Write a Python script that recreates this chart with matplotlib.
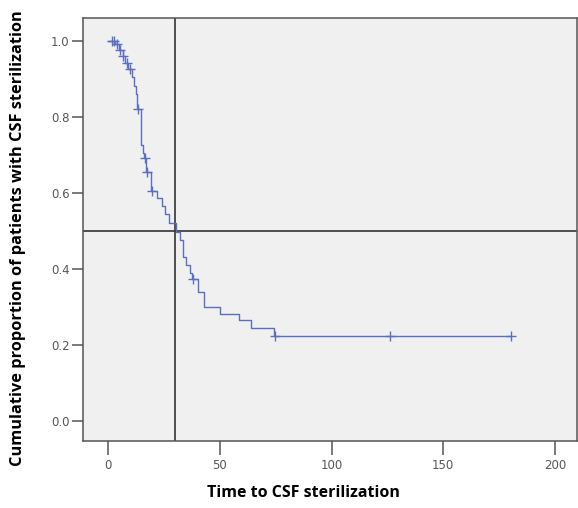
import matplotlib
matplotlib.use('Agg')
import matplotlib.pyplot as plt
import numpy as np

# step points of the Kaplan-Meier curve (time, cumulative proportion after drop)
step_t = [0, 3, 5, 6.5, 7.5, 9, 10.5, 11.5, 12.5, 13, 14.5, 15.5, 16, 17, 19,
          22, 24, 25.5, 27, 30.5, 32, 33.5, 35, 36.5, 37.5, 40, 43, 50, 58.5,
          64, 74, 180.5]
step_s = [1.0, 0.99, 0.975, 0.96, 0.94, 0.925, 0.905, 0.88, 0.86, 0.82, 0.725,
          0.705, 0.69, 0.655, 0.605, 0.585, 0.565, 0.545, 0.52, 0.497, 0.475,
          0.43, 0.41, 0.39, 0.372, 0.34, 0.30, 0.28, 0.265, 0.245, 0.223, 0.223]

# censored observations
censor_t = [1.5, 2.5, 4, 5.3, 6.7, 8.3, 9.7, 13.3, 16.4, 17.2, 19.7, 38, 74.5, 126, 180.5]

median_t = 30
median_s = 0.5

xticks = [0, 50, 100, 150, 200]
yticks = [0.0, 0.2, 0.4, 0.6, 0.8, 1.0]

line_col = '#5b6fc0'
dark = '#333333'

fig = plt.figure(figsize=(5.78, 5.08), dpi=100)
ax = fig.add_axes([0.1441, 0.1319, 0.854, 0.8317])
ax.set_facecolor('#f0f0f0')

ax.step(step_t, step_s, where='post', color=line_col, lw=1.0, zorder=3)

# censor marks on the curve
idx = np.searchsorted(step_t, censor_t, side='right') - 1
censor_s = np.array(step_s)[idx]
ax.plot(censor_t, censor_s, ls='none', marker='|', ms=7, mew=1.0, color=line_col, zorder=4)
ax.plot(censor_t, censor_s, ls='none', marker='_', ms=7, mew=1.0, color=line_col, zorder=4)

# reference lines
ax.axvline(median_t, color=dark, lw=1.2, zorder=2)
ax.axhline(median_s, color=dark, lw=1.2, zorder=2)

ax.set_xlim(-11.2, 209.9)
ax.set_ylim(-0.053, 1.058)
ax.set_xticks(xticks)
ax.set_xticklabels([str(v) for v in xticks])
ax.set_yticks(yticks)
ax.set_yticklabels([f'{v:.1f}' for v in yticks])

for sp in ax.spines.values():
    sp.set_color('#555555')
    sp.set_linewidth(1.1)

ax.tick_params(axis='y', direction='out', length=8, width=1.1, color='#555555',
               labelsize=8.5, labelcolor='#555555', pad=2)
ax.tick_params(axis='x', direction='out', length=10, width=1.1, color='#555555',
               labelsize=8.5, labelcolor='#555555', pad=3)

ax.set_xlabel('Time to CSF sterilization', fontsize=11.5, fontweight='bold',
              family=['Open Sans', 'DejaVu Sans'], va='center')
ax.xaxis.set_label_coords(0.445, -0.123)
ax.set_ylabel('Cumulative proportion of patients with CSF sterilization', fontsize=11.8,
              fontweight='bold', family=['Open Sans', 'DejaVu Sans'],
              va='center')
ax.yaxis.set_label_coords(-0.132, 0.481)

fig.savefig('out.png', dpi=100, facecolor='white')
